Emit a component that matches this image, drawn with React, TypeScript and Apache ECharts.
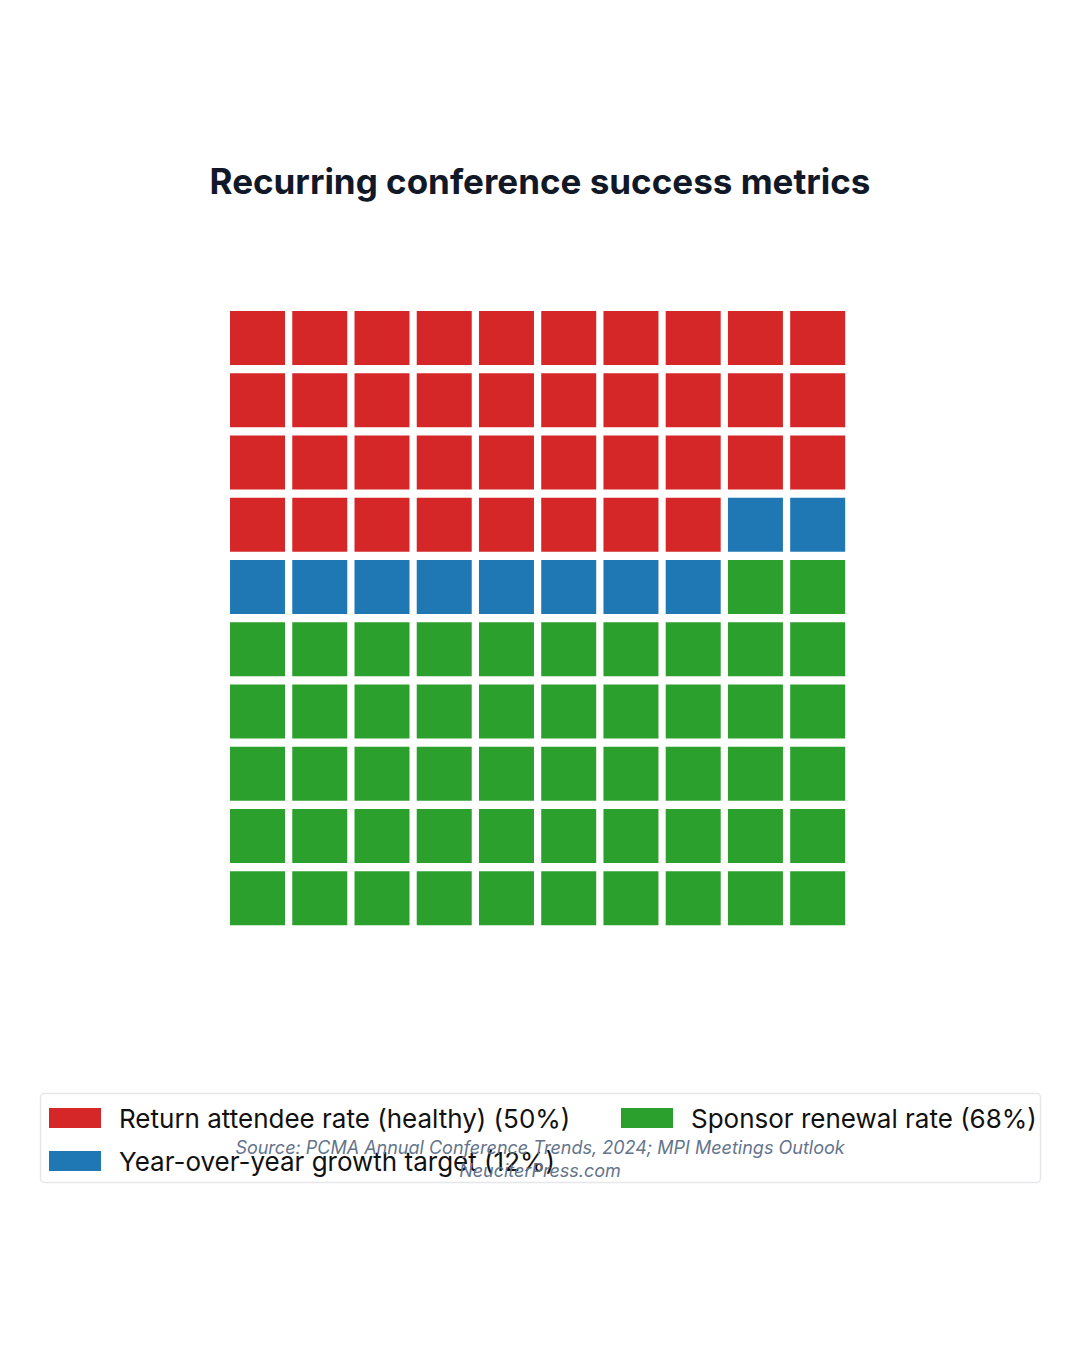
import React, { useEffect, useRef } from 'react';
import * as echarts from 'echarts';

const categories = ['Return attendee rate (healthy)', 'Year-over-year growth target', 'Sponsor renewal rate'];
const values = [50, 12, 68];
const colors = ['#d62728', '#1f77b4', '#2ca02c'];
const gridSize = 10;
const legendOrder = [0, 2, 1];

const titleText = 'Recurring conference success metrics';
const sourceText = 'Source: PCMA Annual Conference Trends, 2024; MPI Meetings Outlook';
const creditText = 'NeuciterPress.com';

const FONT = 'Inter, "Noto Sans", sans-serif';

// share of 100 cells per category, by cumulative rounding
const cellCounts = (() => {
    const total = values.reduce((a, b) => a + b, 0);
    const cells = gridSize * gridSize;
    let cum = 0;
    let prev = 0;
    return values.map((v) => {
        cum += v;
        const edge = Math.round((cum / total) * cells);
        const n = edge - prev;
        prev = edge;
        return n;
    });
})();

const App: React.FC = () => {
    const chartRef = useRef<HTMLDivElement>(null);

    useEffect(() => {
        if (!chartRef.current) return;
        document.body.style.margin = '0';

        const chart = echarts.init(chartRef.current, null, { renderer: 'svg' });

        let start = 0;
        const series = categories.map((name, i) => {
            const data: number[][] = [];
            for (let k = 0; k < cellCounts[i]; k++) {
                const idx = start + k;
                data.push([idx % gridSize, Math.floor(idx / gridSize)]);
            }
            start += cellCounts[i];
            return {
                name: `${name} (${values[i]}%)`,
                type: 'scatter' as const,
                symbol: 'rect',
                symbolSize: [55, 54],
                itemStyle: { color: colors[i], opacity: 1 },
                data
            };
        });

        chart.setOption({
            animation: false,
            textStyle: { fontFamily: FONT },
            title: {
                text: titleText,
                left: 'center',
                top: 158,
                textStyle: { fontSize: 35, fontWeight: 'bold', color: '#111827', fontFamily: FONT }
            },
            grid: { left: 226.4, top: 306.9, width: 622.4, height: 622.4 },
            xAxis: { type: 'value', min: -0.5, max: gridSize - 0.5, show: false },
            yAxis: { type: 'value', min: -0.5, max: gridSize - 0.5, inverse: true, show: false },
            legend: {
                orient: 'horizontal',
                left: 49,
                top: 1105,
                width: 990,
                padding: 0,
                itemWidth: 52,
                itemHeight: 20,
                itemGap: 17,
                icon: 'rect',
                textStyle: {
                    fontSize: 26,
                    lineHeight: 24,
                    color: '#111111',
                    fontFamily: FONT,
                    padding: [0, 0, 0, 13]
                },
                data: legendOrder.map((i) => ({
                    name: `${categories[i]} (${values[i]}%)`,
                    textStyle: i === 0 ? { width: 485 } : {}
                }))
            },
            graphic: [
                {
                    type: 'rect',
                    z: 0,
                    shape: { x: 40.5, y: 1093.5, width: 1000, height: 89, r: 4 },
                    style: { fill: '#ffffff', stroke: '#e5e7eb', lineWidth: 1.5 }
                },
                {
                    type: 'text',
                    z: 100,
                    x: 540,
                    y: 1147,
                    style: {
                        text: sourceText,
                        fontSize: 18,
                        fontStyle: 'italic',
                        fontFamily: FONT,
                        fill: '#64748b',
                        align: 'center',
                        verticalAlign: 'middle'
                    }
                },
                {
                    type: 'text',
                    z: 100,
                    x: 540,
                    y: 1170,
                    style: {
                        text: creditText,
                        fontSize: 18,
                        fontStyle: 'italic',
                        fontFamily: FONT,
                        fill: '#64748b',
                        align: 'center',
                        verticalAlign: 'middle'
                    }
                }
            ],
            series
        });

        return () => {
            chart.dispose();
        };
    }, []);

    return <div ref={chartRef} style={{ width: 1080, height: 1350 }} />;
};

export default App;
